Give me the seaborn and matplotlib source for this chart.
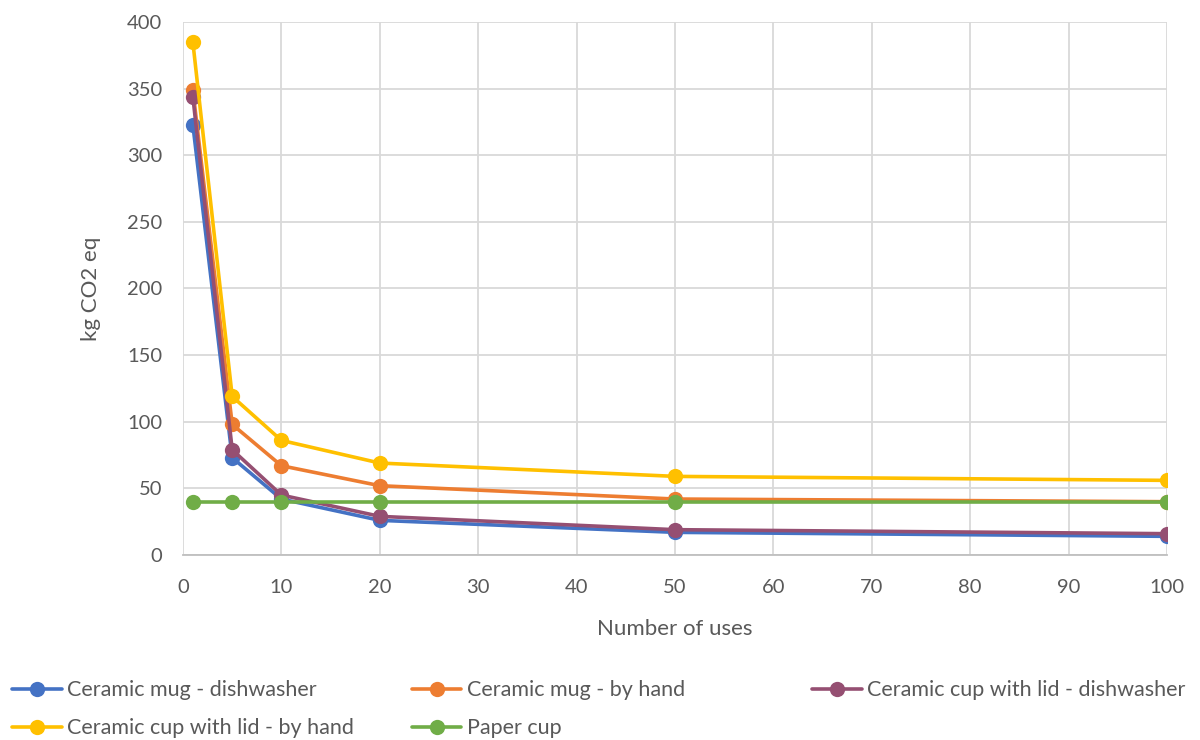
import numpy as np
import pandas as pd
import matplotlib
matplotlib.use("Agg")
import matplotlib.pyplot as plt
import seaborn as sns

# Number of uses on the x axis
uses = [1, 5, 10, 20, 50, 100]

# kg CO2 eq per series
mug_dishwasher = [323, 73, 42, 26, 17, 14]
mug_by_hand = [349, 98, 67, 52, 42, 40]
cup_lid_dishwasher = [344, 79, 45, 29, 19, 16]
cup_lid_by_hand = [385, 119, 86, 69, 59, 56]
paper_cup = [40, 40, 40, 40, 40, 40]

series_names = ["Ceramic mug - dishwasher", "Ceramic mug - by hand",
                "Ceramic cup with lid - dishwasher", "Ceramic cup with lid - by hand",
                "Paper cup"]
series_values = [mug_dishwasher, mug_by_hand, cup_lid_dishwasher, cup_lid_by_hand, paper_cup]
colors = ["#4472C4", "#ED7D31", "#954F72", "#FFC000", "#70AD47"]

sns.set_theme(style="white")
plt.rcParams['font.family'] = ['Lato', 'DejaVu Sans']
text_color = "#595959"

fig = plt.figure(figsize=(12, 7.4), dpi=100)
ax = fig.add_axes([0.1525, 0.25, 0.82, 0.7203])

# Draw each series in Excel's order so the paper cup lies on top
for name, vals, col in zip(series_names, series_values, colors):
    df = pd.DataFrame({"uses": uses, "kg": vals})
    sns.lineplot(data=df, x="uses", y="kg", ax=ax, color=col, linewidth=2.6,
                 marker="o", markersize=11, markeredgewidth=0, label=name, legend=False)

ax.set_xlim(0, 100)
ax.set_ylim(0, 400)
ax.set_xticks(np.arange(0, 101, 10))
ax.set_yticks(np.arange(0, 401, 50))
ax.grid(True, color="#d9d9d9", linewidth=1.3)
ax.set_axisbelow(True)
for side in ["top", "right", "left"]:
    ax.spines[side].set_visible(False)
ax.spines["bottom"].set_color("#bfbfbf")
ax.spines["bottom"].set_linewidth(1.3)
ax.tick_params(axis="both", length=0, labelsize=14.5, labelcolor=text_color)
ax.tick_params(axis="x", pad=17)
ax.tick_params(axis="y", pad=15)
ax.set_xlabel("Number of uses", fontsize=16, color=text_color, labelpad=17)
ax.set_ylabel("kg CO2 eq", fontsize=16, color=text_color, labelpad=19)

# Legend: three equal-width columns below the chart
handles = ax.get_lines()
columns = [[0, 3], [1, 4], [2]]
xs = [0.010, 0.3433, 0.6767]
for idx, x in zip(columns, xs):
    fig.legend([handles[i] for i in idx], [series_names[i] for i in idx],
               loc="upper left", bbox_to_anchor=(x, 0.081), frameon=False,
               fontsize=15.5, labelcolor=text_color, handlelength=2.3,
               handletextpad=0.25, labelspacing=0.85, borderaxespad=0,
               borderpad=0)

fig.savefig("out.png", dpi=100)
